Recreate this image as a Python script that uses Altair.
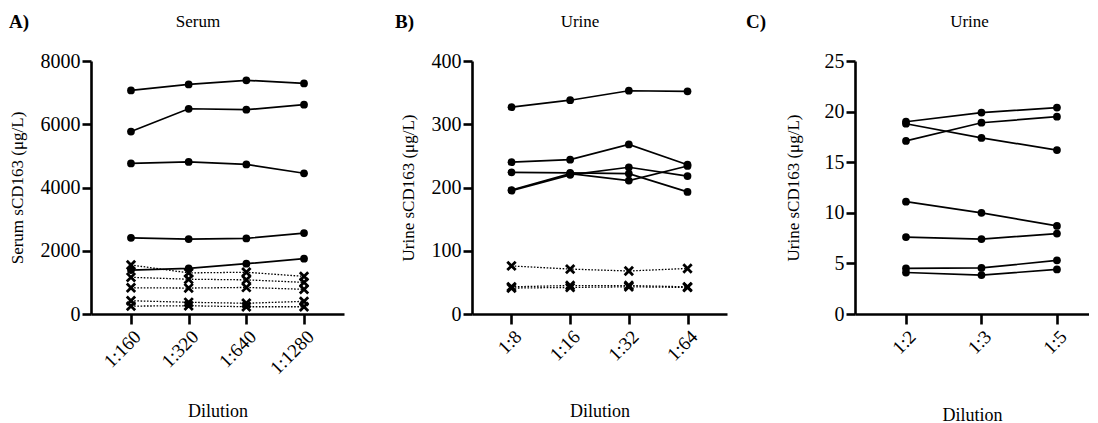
import altair as alt
import pandas as pd

FONT = "Liberation Serif"

# ---------------- data ----------------
dil_A = ["1:160", "1:320", "1:640", "1:1280"]
A_circle_1 = [7070, 7260, 7390, 7290]
A_circle_2 = [5770, 6490, 6460, 6620]
A_circle_3 = [4760, 4810, 4730, 4450]
A_circle_4 = [2410, 2370, 2390, 2560]
A_circle_5 = [1390, 1440, 1590, 1750]
A_cross_1 = [1550, 1300, 1320, 1190]
A_cross_2 = [1160, 1100, 1080, 1000]
A_cross_3 = [830, 820, 840, 780]
A_cross_4 = [420, 370, 340, 400]
A_cross_5 = [250, 260, 230, 230]

dil_B = ["1:8", "1:16", "1:32", "1:64"]
B_circle_1 = [327, 338, 353, 352]
B_circle_2 = [240, 244, 268, 236]
B_circle_3 = [224, 223, 222, 193]
B_circle_4 = [195, 220, 232, 218]
B_circle_5 = [196, 222, 211, 234]
B_cross_1 = [76, 71, 68, 72]
B_cross_2 = [43, 45, 45, 43]
B_cross_3 = [41, 42, 43, 42]

dil_C = ["1:2", "1:3", "1:5"]
C_circle_1 = [19.0, 19.9, 20.4]
C_circle_2 = [17.1, 18.9, 19.5]
C_circle_3 = [18.8, 17.4, 16.2]
C_circle_4 = [11.1, 10.0, 8.7]
C_circle_5 = [7.6, 7.4, 7.95]
C_circle_6 = [4.5, 4.55, 5.3]
C_circle_7 = [4.1, 3.85, 4.4]


def build(dils, circles, crosses):
    rows = []
    for i, s in enumerate(circles):
        for d, v in zip(dils, s):
            rows.append({"dilution": d, "value": v, "subject": f"c{i}", "kind": "circle"})
    for i, s in enumerate(crosses):
        for d, v in zip(dils, s):
            rows.append({"dilution": d, "value": v, "subject": f"x{i}", "kind": "cross"})
    return pd.DataFrame(rows)


df_A = build(dil_A, [A_circle_1, A_circle_2, A_circle_3, A_circle_4, A_circle_5],
             [A_cross_1, A_cross_2, A_cross_3, A_cross_4, A_cross_5])
df_B = build(dil_B, [B_circle_1, B_circle_2, B_circle_3, B_circle_4, B_circle_5],
             [B_cross_1, B_cross_2, B_cross_3])
df_C = build(dil_C, [C_circle_1, C_circle_2, C_circle_3, C_circle_4, C_circle_5,
                     C_circle_6, C_circle_7], [])

XSHAPE = "M-1,-1L1,1M1,-1L-1,1"
H = 253
AX = dict(domainColor="black", domainWidth=2.6, tickColor="black", tickWidth=2.6,
          labelColor="black", titleColor="black", labelFont=FONT, titleFont=FONT,
          grid=False, titleFontWeight="normal")


def panel(df, dils, ymax, ystep, ytitle, title, letter, width, pad, align,
          ytitle_x, xtitle_y, title_dx, letter_x, has_cross=True):
    x = alt.X("dilution:N", sort=dils,
              scale=alt.Scale(type="point", padding=pad, align=align),
              axis=alt.Axis(title="Dilution", labelAngle=-45, labelFontSize=19,
                            labelPadding=3, tickSize=10, titleY=xtitle_y,
                            titleFontSize=18, **AX))
    y = alt.Y("value:Q",
              scale=alt.Scale(domain=[0, ymax], nice=False, zero=True),
              axis=alt.Axis(title=ytitle, values=list(range(0, ymax + 1, ystep)),
                            format="d", labelFontSize=20, labelPadding=2, tickSize=9,
                            titleX=ytitle_x, titleBaseline="alphabetic",
                            titleFontSize=17, **AX))
    base = alt.Chart(df)
    layers = [
        base.transform_filter(alt.datum.kind == "circle").mark_line(
            color="black", strokeWidth=1.7).encode(x=x, y=y, detail="subject:N"),
    ]
    if has_cross:
        layers.append(base.transform_filter(alt.datum.kind == "cross").mark_line(
            color="black", strokeWidth=1.3, strokeDash=[1.6, 1.6]).encode(
            x=x, y=y, detail="subject:N"))
    layers.append(base.transform_filter(alt.datum.kind == "circle").mark_point(
        shape="circle", filled=True, size=60, color="black", opacity=1).encode(x=x, y=y))
    if has_cross:
        layers.append(base.transform_filter(alt.datum.kind == "cross").mark_point(
            shape=XSHAPE, filled=False, size=70, strokeWidth=2.8, color="black",
            opacity=1).encode(x=x, y=y))
    layers.append(alt.Chart(pd.DataFrame({"t": [letter]})).mark_text(
        font=FONT, fontSize=19, fontWeight="bold", align="left",
        baseline="alphabetic", color="black").encode(
        text="t:N", x=alt.value(letter_x), y=alt.value(-33)))
    return alt.layer(*layers).properties(
        width=width, height=H,
        title=alt.TitleParams(title, anchor="middle", dx=title_dx, offset=-31,
                              frame="group",
                              baseline="alphabetic", fontSize=17,
                              fontWeight="normal", font=FONT, color="black"))


pA = panel(df_A, dil_A, 8000, 2000, "Serum sCD163 (μg/L)", "Serum", "A)",
           253, 0.693, 0.5, -68.5, 88, -19.5, -82)
pB = panel(df_B, dil_B, 400, 100, "Urine sCD163 (μg/L)", "Urine", "B)",
           255, 0.673, 0.5, -59, 88, -19.5, -77)
pC = panel(df_C, dil_C, 25, 5, "Urine sCD163 (μg/L)", "Urine", "C)",
           234, 0.55, 0.614, -57, 92, -2.5, -109, has_cross=False)

chart = alt.hconcat(pA, pB, pC, spacing=128, bounds="flush").properties(
    padding={"left": 0, "top": 5, "right": 0, "bottom": 0},
    background="white"
).configure_view(stroke=None)

chart.save("out.html", embed_options={"renderer": "svg", "actions": False})
